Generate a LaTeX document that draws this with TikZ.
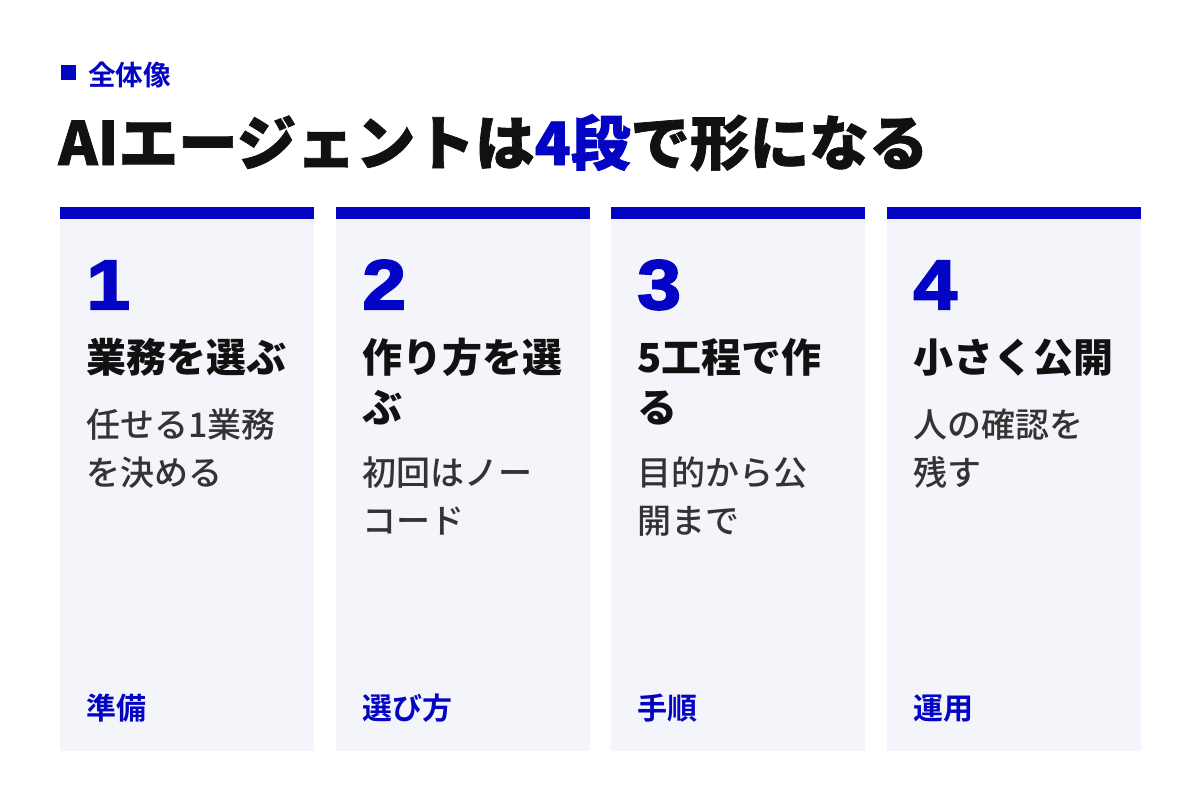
\documentclass[tikz,border=0pt]{standalone}
\usepackage{fontspec}
\setmainfont{Noto Sans CJK JP}[BoldFont=Noto Sans CJK JP Bold]
\newfontfamily\jpblack{Noto Sans CJK JP Black}
\newfontfamily\jpheavy{Noto Sans CJK JP Black}[FakeBold=1.2]
\newfontfamily\jpmedium{Noto Sans CJK JP Medium}
\newfontfamily\numfont{Liberation Sans Bold}[FakeBold=3,FakeStretch=1.12]
\definecolor{stageblue}{RGB}{4,4,196}
\definecolor{cardbg}{RGB}{243,245,250}
\definecolor{textgray}{RGB}{51,51,51}
\definecolor{ink}{RGB}{17,17,17}
\tikzset{
  every node/.style={inner sep=0pt,anchor=base west},
  num/.style={font=\numfont\fontsize{35}{35}\selectfont,text=stageblue},
  head/.style={font=\jpblack\fontsize{20}{25}\selectfont,text=ink,align=left},
  body/.style={font=\jpmedium\fontsize{17}{24}\selectfont,text=textgray,align=left},
  foot/.style={font=\bfseries\fontsize{15}{15}\selectfont,text=stageblue}
}
\begin{document}
\begin{tikzpicture}[x=0.5pt,y=-0.5pt]
  \useasboundingbox[fill=white] (0,0) rectangle (1200,800);
  %% header
  \fill[stageblue] (61,65) rectangle (76,80);
  \node[font=\bfseries\fontsize{13.8}{13.8}\selectfont,text=stageblue] (kicker) at (88,85) {全体像};
  \node[font=\jpheavy\fontsize{29.8}{29.8}\selectfont,text=ink] (title) at (58,165)
    {AIエージェントは{\color{stageblue}4段}で形になる};

  %% the cards
  \foreach \x in {60,336,611,887}{
    \fill[cardbg] (\x,219) rectangle (\x+254,751);
    \fill[stageblue] (\x,207) rectangle (\x+254,219);
  }

  %%%%%%% card 1
  \node[num] (num1) at (86,309) {1};
  \node[head] (head1) at (86,372) {業務を選ぶ};
  \node[body] (body1) at (86,485) {任せる1業務\\を決める};
  \node[foot] (foot1) at (86,719) {準備};

  %%%%%%% card 2
  \node[num] (num2) at (362,309) {2};
  \node[head] (head2) at (362,422) {作り方を選\\ぶ};
  \node[body] (body2) at (362,533) {初回はノー\\コード};
  \node[foot] (foot2) at (362,719) {選び方};

  %%%%%%% card 3
  \node[num] (num3) at (637,309) {3};
  \node[head] (head3) at (637,422) {5工程で作\\る};
  \node[body] (body3) at (637,533) {目的から公\\開まで};
  \node[foot] (foot3) at (637,719) {手順};

  %%%%%%% card 4
  \node[num] (num4) at (913,309) {4};
  \node[head] (head4) at (913,372) {小さく公開};
  \node[body] (body4) at (913,485) {人の確認を\\残す};
  \node[foot] (foot4) at (913,719) {運用};
\end{tikzpicture}
\end{document}
